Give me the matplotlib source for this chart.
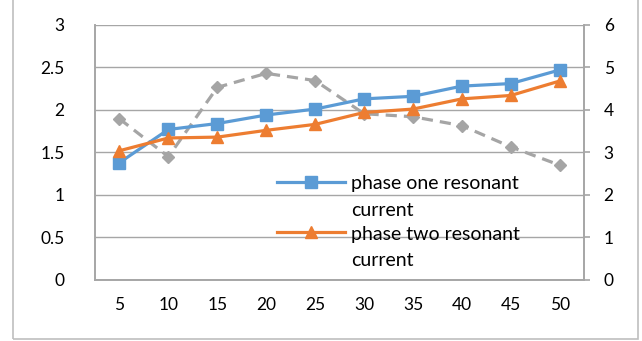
import matplotlib.pyplot as plt
from matplotlib.patches import Rectangle

plt.rcParams['font.family'] = ['Lato', 'DejaVu Sans']

# frequency steps on the category axis
steps = ['5', '10', '15', '20', '25', '30', '35', '40', '45', '50']

# resonant currents (left axis)
phase_one = [1.38, 1.77, 1.84, 1.94, 2.01, 2.13, 2.16, 2.28, 2.31, 2.47]
phase_two = [1.52, 1.67, 1.68, 1.76, 1.83, 1.97, 2.01, 2.13, 2.17, 2.34]
# third series on the secondary axis
third = [3.79, 2.90, 4.53, 4.86, 4.69, 3.91, 3.84, 3.63, 3.13, 2.70]

left_ticks = [0, 0.5, 1, 1.5, 2, 2.5, 3]
left_labels = ['0', '0.5', '1', '1.5', '2', '2.5', '3']
right_ticks = [0, 1, 2, 3, 4, 5, 6]

blue = '#5B9BD5'
orange = '#ED7D31'
grey = '#A5A5A5'
axis_grey = '#A6A6A6'

fig = plt.figure(figsize=(6.42, 3.41), dpi=100)
ax = fig.add_axes([0.148, 0.179, 0.762, 0.748])
ax2 = ax.twinx()

x = list(range(len(steps)))

ax2.plot(x, third, color=grey, lw=2.3, ls=(0, (3.5, 2.2)), marker='D',
         markersize=6.5, markeredgecolor=grey, zorder=2)

l1, = ax.plot(x, phase_one, color=blue, lw=2.3, marker='s', markersize=8,
              label='phase one resonant\ncurrent', zorder=3)
l2, = ax.plot(x, phase_two, color=orange, lw=2.3, marker='^', markersize=8.5,
              label='phase two resonant\ncurrent', zorder=3)

# keep the primary series above the secondary axis
ax.set_zorder(ax2.get_zorder() + 1)
ax.patch.set_visible(False)

ax.set_xlim(-0.5, len(steps) - 0.5)
ax.set_ylim(0, 3)
ax2.set_ylim(0, 6)

ax.set_xticks(x)
ax.set_xticklabels(steps)
ax.set_yticks(left_ticks)
ax.set_yticklabels(left_labels)
ax2.set_yticks(right_ticks)
ax2.set_yticklabels([str(t) for t in right_ticks])

ax.grid(axis='y', color=axis_grey, lw=1)
ax.set_axisbelow(True)

for a in (ax, ax2):
    for s in a.spines.values():
        s.set_color(axis_grey)
        s.set_linewidth(1.2)
    a.spines['top'].set_visible(False)

ax.tick_params(axis='both', length=0, labelsize=12.5, colors='black', pad=12)
ax.tick_params(axis='y', pad=22)
ax2.tick_params(axis='y', length=4, color=axis_grey, width=1.2, labelsize=12.5,
                colors='black', pad=10)
ax2.tick_params(axis='y', colors=axis_grey)
for t in ax2.get_yticklabels():
    t.set_color('black')

leg = ax.legend(handles=[l1, l2], loc='upper left',
                bbox_to_anchor=(277 / 642, 1 - 175 / 341),
                bbox_transform=fig.transFigure, frameon=False, fontsize=14,
                handlelength=3.5, handletextpad=0.3, labelspacing=0.35,
                borderpad=0, borderaxespad=0)
for t in leg.get_texts():
    t.set_linespacing(1.7)
# put each handle beside the first line of its label
for col in leg._legend_handle_box.get_children():
    for row in col.get_children():
        row.align = 'top'

# light border around the whole chart
fig.patches.append(Rectangle((13 / 642, 2 / 341), 625 / 642, 1.2,
                             transform=fig.transFigure, fill=False,
                             edgecolor='#BFBFBF', lw=1.2))

fig.savefig('out.png', dpi=100)
